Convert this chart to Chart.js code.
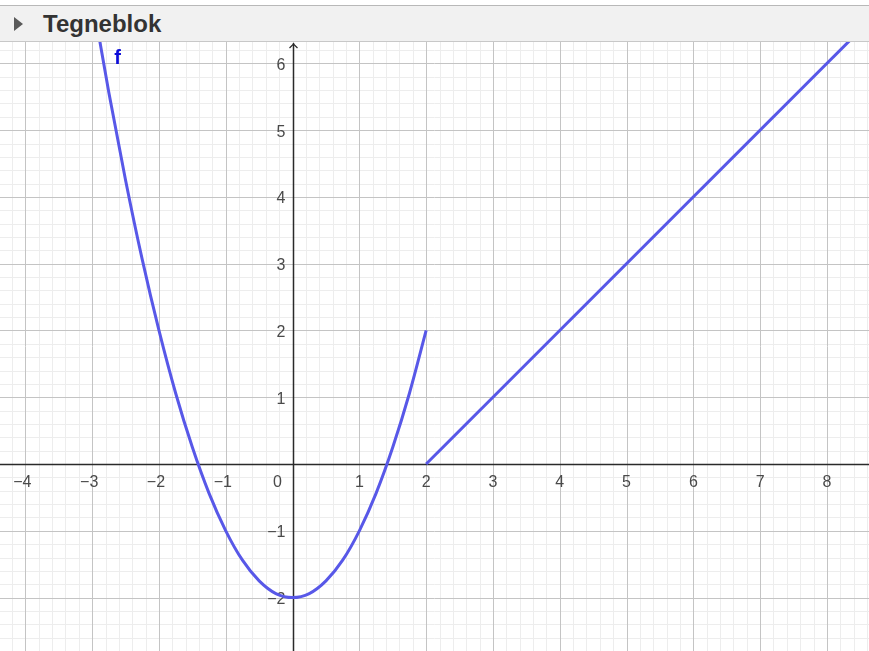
<!DOCTYPE html>
<html>
<head>
<meta charset="utf-8">
<title>Tegneblok</title>
<script src="https://cdn.jsdelivr.net/npm/chart.js@4/dist/chart.umd.min.js"></script>
<style>
  html, body { margin: 0; padding: 0; background: #fff; overflow: hidden; }
  #bar {
    position: absolute; left: 0; top: 5px; width: 869px; height: 35px;
    background: #f1f1f1; border-top: 1px solid #b8b8b8; border-bottom: 1px solid #c8c8c8;
    font-family: "Liberation Sans", Arial, sans-serif;
  }
  #bar .arrow {
    position: absolute; left: 14px; top: 11px; width: 0; height: 0;
    border-top: 7px solid transparent; border-bottom: 7px solid transparent; border-left: 9px solid #5a5a5a;
  }
  #bar .title { position: absolute; left: 43px; top: 4px; font-size: 24px; font-weight: bold; color: #333; }
  #wrap { position: absolute; left: 0; top: 42px; width: 869px; height: 609px; }
</style>
</head>
<body>
<div id="bar"><div class="arrow"></div><div class="title">Tegneblok</div></div>
<div id="wrap"><canvas id="chart"></canvas></div>
<script>
// f(x): parabola part up to x = 2, straight line after it
const parabolaX = [-2.92, -2.75, -2.5, -2.25, -2, -1.75, -1.5, -1.25, -1, -0.75, -0.5, -0.25, 0,
                   0.25, 0.5, 0.75, 1, 1.25, 1.5, 1.75, 2];
const parabolaY = [6.53, 5.56, 4.25, 3.06, 2, 1.06, 0.25, -0.44, -1, -1.44, -1.75, -1.94, -2,
                   -1.94, -1.75, -1.44, -1, -0.44, 0.25, 1.06, 2];
const lineX = [2, 8.4];
const lineY = [0, 6.4];

const xTicks = [-4, -3, -2, -1, 0, 1, 2, 3, 4, 5, 6, 7, 8];
const yTicks = [-2, -1, 1, 2, 3, 4, 5, 6];
const curveName = 'f';

const view = { xMin: -4.38, xMax: 8.63, yMin: -2.8, yMax: 6.32 };
const fLabelPos = { x: -2.62, y: 6.08 };

const curveColor = 'rgb(88, 88, 232)';
const minus = n => (n < 0 ? '\u2212' + Math.abs(n) : String(n));

const toPts = (xs, ys) => xs.map((x, i) => ({ x: x, y: ys[i] }));

// grid, axes and tick labels in GeoGebra style
const geoGrid = {
  id: 'geoGrid',
  beforeDatasetsDraw(chart) {
    const { ctx, chartArea: a, scales: { x, y } } = chart;
    ctx.save();
    ctx.lineWidth = 1;
    // minor lines, 5 per unit
    ctx.strokeStyle = '#ededed';
    for (let v = Math.ceil(view.xMin * 5); v <= view.xMax * 5; v++) {
      if (v % 5 === 0) continue;
      const px = Math.round(x.getPixelForValue(v / 5)) + 0.5;
      ctx.beginPath(); ctx.moveTo(px, a.top); ctx.lineTo(px, a.bottom); ctx.stroke();
    }
    for (let v = Math.ceil(view.yMin * 5); v <= view.yMax * 5; v++) {
      if (v % 5 === 0) continue;
      const py = Math.round(y.getPixelForValue(v / 5)) + 0.5;
      ctx.beginPath(); ctx.moveTo(a.left, py); ctx.lineTo(a.right, py); ctx.stroke();
    }
    // major lines
    ctx.strokeStyle = '#c4c4c4';
    for (let v = Math.ceil(view.xMin); v <= view.xMax; v++) {
      const px = Math.round(x.getPixelForValue(v)) + 0.5;
      ctx.beginPath(); ctx.moveTo(px, a.top); ctx.lineTo(px, a.bottom); ctx.stroke();
    }
    for (let v = Math.ceil(view.yMin); v <= view.yMax; v++) {
      const py = Math.round(y.getPixelForValue(v)) + 0.5;
      ctx.beginPath(); ctx.moveTo(a.left, py); ctx.lineTo(a.right, py); ctx.stroke();
    }
    // axes
    const ox = Math.round(x.getPixelForValue(0)) + 0.5;
    const oy = Math.round(y.getPixelForValue(0)) + 0.5;
    ctx.strokeStyle = '#2a2a2a';
    ctx.lineWidth = 1.5;
    ctx.beginPath(); ctx.moveTo(a.left, oy); ctx.lineTo(a.right, oy); ctx.stroke();
    ctx.beginPath(); ctx.moveTo(ox, a.top + 1); ctx.lineTo(ox, a.bottom); ctx.stroke();
    ctx.lineWidth = 1.2;
    ctx.beginPath();
    ctx.moveTo(ox - 4, a.top + 6); ctx.lineTo(ox, a.top + 2); ctx.lineTo(ox + 4, a.top + 6);
    ctx.stroke();
    // tick labels
    ctx.fillStyle = '#4a4a4a';
    ctx.font = '16px "Liberation Sans", Arial, sans-serif';
    ctx.textBaseline = 'middle';
    ctx.textAlign = 'center';
    xTicks.forEach(v => {
      const px = x.getPixelForValue(v);
      if (v === 0) {
        ctx.fillText('0', px - 15, oy + 18);
      } else {
        ctx.fillText(minus(v), px - (v < 0 ? 3 : 0), oy + 18);
      }
    });
    ctx.textAlign = 'right';
    yTicks.forEach(v => {
      ctx.fillText(minus(v), ox - 8, y.getPixelForValue(v) + 2);
    });
    ctx.restore();
  },
  afterDatasetsDraw(chart) {
    const { ctx, scales: { x, y } } = chart;
    ctx.save();
    ctx.fillStyle = '#0c0cd8';
    ctx.font = 'bold 20px "Liberation Sans", Arial, sans-serif';
    ctx.textAlign = 'center';
    ctx.textBaseline = 'middle';
    ctx.fillText(curveName, x.getPixelForValue(fLabelPos.x), y.getPixelForValue(fLabelPos.y));
    ctx.restore();
  }
};

new Chart(document.getElementById('chart'), {
  type: 'scatter',
  data: {
    datasets: [
      {
        label: curveName,
        data: toPts(parabolaX, parabolaY),
        showLine: true,
        borderColor: curveColor,
        borderWidth: 3,
        pointRadius: 0,
        cubicInterpolationMode: 'monotone'
      },
      {
        label: curveName,
        data: toPts(lineX, lineY),
        showLine: true,
        borderColor: curveColor,
        borderWidth: 3,
        pointRadius: 0
      }
    ]
  },
  options: {
    responsive: true,
    maintainAspectRatio: false,
    animation: false,
    layout: { padding: 0 },
    plugins: { legend: { display: false }, tooltip: { enabled: false } },
    scales: {
      x: { type: 'linear', display: false, min: view.xMin, max: view.xMax },
      y: { type: 'linear', display: false, min: view.yMin, max: view.yMax }
    }
  },
  plugins: [geoGrid]
});
</script>
</body>
</html>
